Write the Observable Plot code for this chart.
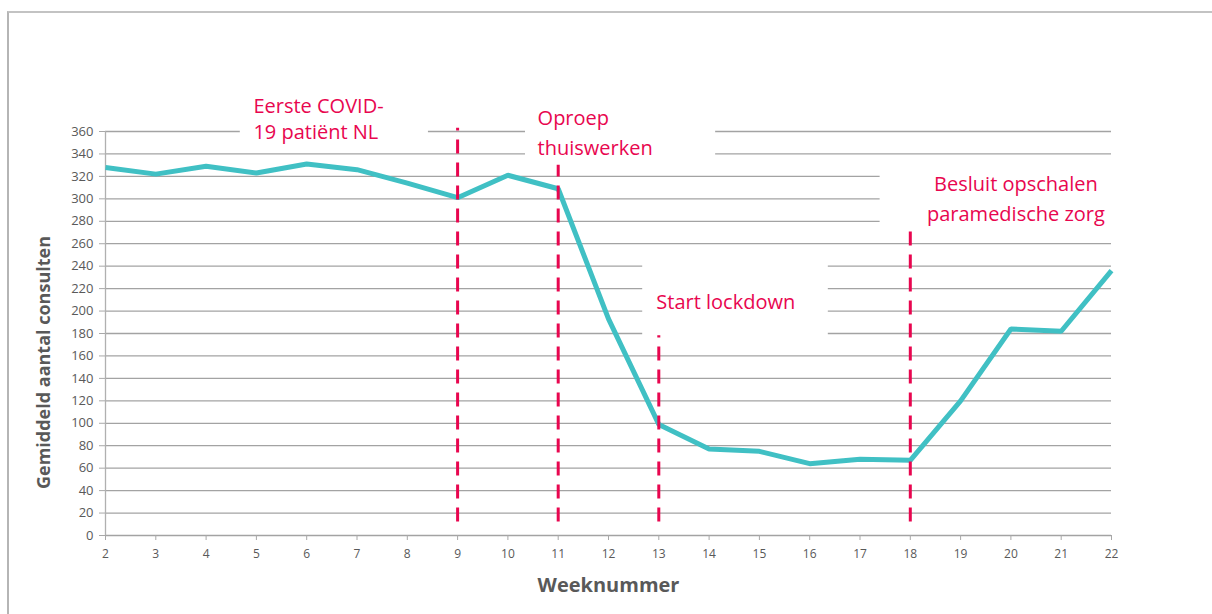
<!DOCTYPE html>
<html><head><meta charset="utf-8">
<script src="https://cdn.jsdelivr.net/npm/d3@7"></script>
<script src="https://cdn.jsdelivr.net/npm/@observablehq/plot@0.6"></script>
<style>
body{margin:0;background:#fff;}
#wrap{position:relative;width:1212px;height:614px;overflow:hidden;}
#frame{position:absolute;left:7px;top:11px;right:-4px;bottom:-4px;border-top:2px solid #c3c3c3;border-left:2px solid #b5b5b5;pointer-events:none;}
</style></head><body><div id="wrap"><div id="chart"></div><div id="frame"></div></div>
<script>
// ---- data ----
const weeks = [2,3,4,5,6,7,8,9,10,11,12,13,14,15,16,17,18,19,20,21,22];
const consults = [328,322,329,323,331,326,314,301,321,309,193,99,77,75,64,68,67,120,184,182,236];
const eventWeeks = [9,11,13,18];
const eventTops = [363,330,178,273];
const eventLabels = ["Eerste COVID-\n19 patiënt NL","Oproep\nthuiswerken","Start lockdown","Besluit opschalen\nparamedische zorg"];
const yTicks = [0,20,40,60,80,100,120,140,160,180,200,220,240,260,280,300,320,340,360];
const xTicks = weeks;
const xTitle = "Weeknummer";
const yTitle = "Gemiddeld aantal consulten";

// ---- derived tables ----
const series = weeks.map((w,i)=>({week:w, value:consults[i]}));
const events = eventWeeks.map((w,i)=>({week:w, top:eventTops[i], bottom:12}));
// annotation placement (data coordinates) for the text boxes
const anno = [
  {label:eventLabels[0], x:4.94, y:372, x1:4.68, x2:8.42, y1:347, y2:396, anchor:"start", lh:1.3},
  {label:eventLabels[1], x:10.59, y:361, x1:10.35, x2:14.13, y1:330, y2:392, anchor:"start", lh:1.5},
  {label:eventLabels[2], x:12.95, y:209.5, x1:12.68, x2:16.37, y1:174, y2:247, anchor:"start", lh:1.3},
  {label:eventLabels[3], x:20.1, y:302.5, x1:17.4, x2:22.3, y1:270, y2:330, anchor:"middle", lh:1.5}
];

const RED = "#e8064f", TEAL = "#40c0c4", GRID = "#a3a3a3", TXT = "#595959";

const chart = Plot.plot({
  width: 1212, height: 614,
  marginLeft: 105, marginRight: 101, marginTop: 131, marginBottom: 79,
  style: {fontFamily: "'Open Sans', sans-serif", background: "transparent", overflow: "visible"},
  x: {domain: [2, 22], ticks: xTicks},
  y: {domain: [0, 360], ticks: yTicks},
  marks: [
    Plot.ruleY(yTicks.filter(d => d > 0), {stroke: GRID, strokeWidth: 1.3}),
    Plot.rect(anno, {x1: "x1", x2: "x2", y1: "y1", y2: "y2", fill: "white"}),
    Plot.ruleY([0], {stroke: GRID, strokeWidth: 1.3}),
    Plot.ruleX([weeks[0]], {y1: 0, y2: yTicks[yTicks.length-1], stroke: "#b0b0b0", strokeWidth: 1.3}),
    Plot.axisY({ticks: yTicks, tickSize: 6, tickPadding: 6, stroke: "#a8a8a8", fill: TXT, fontSize: 13, label: null}),
    Plot.axisX({ticks: xTicks, tickSize: 5, tickPadding: 9, stroke: "#a8a8a8", fill: TXT, fontSize: 12, label: null}),
    Plot.line(series, {x: "week", y: "value", stroke: TEAL, strokeWidth: 5, strokeLinejoin: "miter", strokeLinecap: "butt"}),
    Plot.ruleX(events, {x: "week", y1: "bottom", y2: "top", stroke: RED, strokeWidth: 3, strokeDasharray: "14 9"}),
    ...anno.map(a => Plot.text([a], {x: "x", y: "y", text: "label", textAnchor: a.anchor, lineAnchor: "middle", lineHeight: a.lh, fill: RED, fontSize: 20, fontFamily: "'Open Sans', sans-serif"})),
    Plot.text([xTitle], {frameAnchor: "bottom", dy: 50, textAnchor: "middle", lineAnchor: "middle", fill: TXT, fontSize: 20, fontWeight: "bold"}),
    Plot.text([yTitle], {frameAnchor: "left", rotate: -90, dx: -61, dy: 29, textAnchor: "middle", lineAnchor: "middle", fill: TXT, fontSize: 18, fontWeight: "bold"})
  ]
});
document.getElementById("chart").appendChild(chart);
</script></body></html>
